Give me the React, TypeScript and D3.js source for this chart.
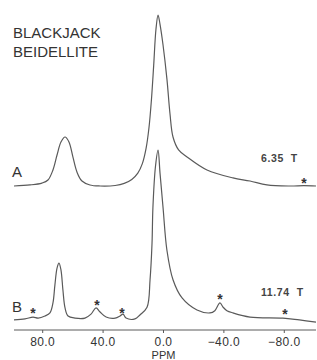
import React from "react";
import * as d3 from "d3";

// spectrum A (6.35 T) – [ppm, relative intensity]
const specA: [number, number][] = [
  [99, 0], [88.4, 0.6], [80.5, 1.7], [76.5, 3.5], [73.2, 9.3], [70.5, 18],
  [67.9, 25.6], [65.2, 28.5], [62.6, 25.6], [60, 16.9], [57.3, 8.1], [54, 2.9],
  [48.7, 0.6], [42, 0], [32, 0.3], [26, 1.5], [21, 3.8], [17, 7.5],
  [14, 13], [11.5, 22], [9.6, 34], [8, 50], [6.5, 70], [5, 91], [3.6, 99.4],
  [2.3, 94], [0.3, 82], [-2.3, 62], [-4.3, 42], [-6.3, 28.5], [-10, 21],
  [-15.6, 16.9], [-28.8, 9.3], [-46, 4.7], [-57.3, 2.9], [-68.5, 0.6],
  [-83.8, 0], [-93, 0.2], [-101, 0],
];

// spectrum B (11.74 T)
const specB: [number, number][] = [
  [99, 0.6], [91.7, 1.2], [86.4, 2.3], [83, 1.7], [78.5, 2.9], [75.2, 4.7],
  [73.2, 10.5], [71.9, 21], [70.5, 30.8], [69.2, 33.7], [67.9, 29.7], [66.6, 18],
  [65.2, 7.6], [63.2, 2.9], [58.6, 1.7], [52, 1.7], [48, 4], [44.7, 7.6],
  [42, 5.2], [38, 2.3], [32, 1.7], [28.8, 2.9], [26.8, 4], [24.8, 1.7],
  [18.9, 1.2], [15.6, 3.5], [10.9, 8], [8.9, 24], [7.6, 45], [7, 66],
  [5.3, 90], [3.6, 99.4], [2.3, 86], [0.3, 66], [-2.3, 41], [-6.3, 24],
  [-12.3, 13.4], [-22.2, 6.4], [-30.8, 4.7], [-34, 6], [-37.4, 10.5],
  [-39.5, 8], [-42, 6], [-46, 4.7], [-57.3, 2.3], [-79, 1.7], [-90, 0.6],
  [-101, -0.6],
];

// spinning sidebands marked with *
const starsA: [number, number][] = [[-93, 2.9]];
const starsB: [number, number][] = [[86.4, 5.8], [44, 10.5], [27.5, 5.8], [-37.4, 14], [-80.5, 5.2]];

const tickValues = [80, 40, 0, -40, -80];

const W = 317;
const H = 360;
const font = "'Liberation Sans', Arial, sans-serif";
const ink = "#333";
const lineCol = "#5a5a5a";

export default function App() {
  const x = d3.scaleLinear().domain([99, -101]).range([14, 316]);
  const yA = d3.scaleLinear().domain([0, 100]).range([186, 14]);
  const yB = d3.scaleLinear().domain([0, 100]).range([321, 149]);
  const fmt = d3.format(".1f");

  const lineFor = (y: d3.ScaleLinear<number, number>) =>
    d3.line<[number, number]>()
      .x((d) => x(d[0]))
      .y((d) => y(d[1]))
      .curve(d3.curveCatmullRom.alpha(0.5));

  const axisY = 330;

  return (
    <svg width={W} height={H} style={{ position: "absolute", left: 0, top: 0, background: "#fff" }} fontFamily={font}>
      <text x={13} y={38} fontSize={15} fill={ink}>BLACKJACK</text>
      <text x={13} y={57} fontSize={15} fill={ink}>BEIDELLITE</text>

      <path d={lineFor(yA)(specA) || ""} fill="none" stroke={lineCol} strokeWidth={1.2} />
      <path d={lineFor(yB)(specB) || ""} fill="none" stroke={lineCol} strokeWidth={1.2} />

      <text x={12} y={177} fontSize={15} fill={ink}>A</text>
      <text x={12} y={312} fontSize={15} fill={ink}>B</text>

      <text x={261} y={162} fontSize={10.5} fontWeight="bold" fill="#444" letterSpacing={0.6} style={{ whiteSpace: "pre" }}>6.35  T</text>
      <text x={261} y={296} fontSize={10.5} fontWeight="bold" fill="#444" letterSpacing={0.6} style={{ whiteSpace: "pre" }}>11.74  T</text>

      {starsA.map((d, i) => (
        <text key={"a" + i} x={x(d[0])} y={yA(d[1]) + 7} fontSize={14} fontWeight="bold" textAnchor="middle" fill={ink}>*</text>
      ))}
      {starsB.map((d, i) => (
        <text key={"b" + i} x={x(d[0])} y={yB(d[1]) + 7} fontSize={14} fontWeight="bold" textAnchor="middle" fill={ink}>*</text>
      ))}

      <line x1={14} x2={316} y1={axisY} y2={axisY} stroke={lineCol} strokeWidth={1} />
      {tickValues.map((t) => (
        <g key={t} transform={`translate(${x(t)},0)`}>
          <line y1={axisY} y2={axisY + 3} stroke={lineCol} strokeWidth={1} />
          <text y={346} fontSize={12} textAnchor="middle" fill={ink} letterSpacing={0.4}>{fmt(t)}</text>
        </g>
      ))}
      <text x={x(0)} y={359} fontSize={11} textAnchor="middle" fill={ink}>PPM</text>
    </svg>
  );
}
